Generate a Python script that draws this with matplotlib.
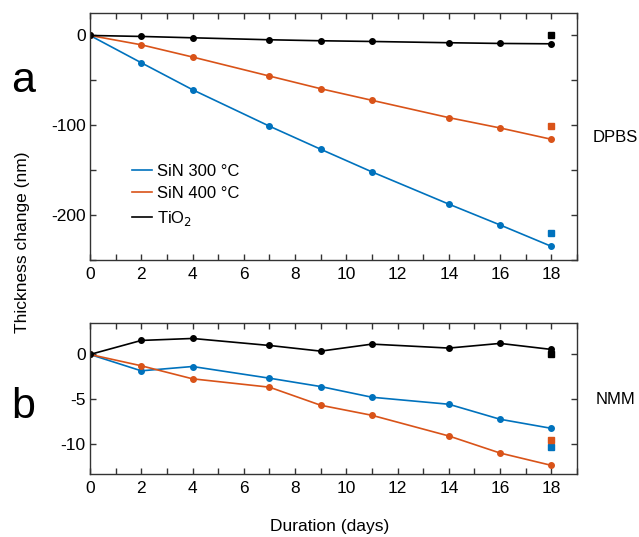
import matplotlib
matplotlib.use("Agg")
import matplotlib.pyplot as plt
from matplotlib.ticker import MultipleLocator

plt.rcParams['font.family'] = ['Liberation Sans', 'DejaVu Sans']
plt.rcParams['axes.unicode_minus'] = False

days = [0, 2, 4, 7, 9, 11, 14, 16, 18]

# Panel a: DPBS
dpbs_sin300 = [0, -30.4, -60.4, -101, -126.7, -151.9, -187.8, -211, -234.8]
dpbs_sin400 = [0, -10.4, -24.0, -45.2, -59.3, -72.2, -91.5, -103, -115.6]
dpbs_tio2 = [0, -1.1, -2.6, -4.8, -5.9, -6.7, -8.1, -8.9, -9.3]
dpbs_sq = {'sin300': -219.6, 'sin400': -101, 'tio2': 0}

# Panel b: NMM
nmm_sin300 = [0, -1.82, -1.34, -2.64, -3.57, -4.76, -5.54, -7.21, -8.22]
nmm_sin400 = [0, -1.26, -2.71, -3.64, -5.65, -6.77, -9.07, -10.97, -12.34]
nmm_tio2 = [0, 1.56, 1.78, 1.0, 0.37, 1.15, 0.71, 1.23, 0.56]
nmm_sq = {'sin300': -10.3, 'sin400': -9.5, 'tio2': 0.05}

sq_day = 18
labels = ['SiN 300 °C', 'SiN 400 °C', 'TiO$_2$']
colors = ['#0072BD', '#D95319', '#000000']

FS_TICK = 12.5
FS_LAB = 12.5
FS_TXT = 12

fig = plt.figure(figsize=(6.39, 5.37), dpi=100)
W, H = 639, 537
def ax_rect(l, t, r, b):
    return [l / W, 1 - b / H, (r - l) / W, (b - t) / H]

axa = fig.add_axes(ax_rect(90, 13, 577, 260))
axb = fig.add_axes(ax_rect(90, 323, 577, 474))

spine_col = '#333333'

def style(ax):
    for s in ax.spines.values():
        s.set_color(spine_col)
        s.set_linewidth(1.0)
    ax.tick_params(which='both', direction='in', top=True, right=True,
                   color=spine_col, labelsize=FS_TICK)
    ax.tick_params(axis='y', pad=3)
    ax.tick_params(axis='x', pad=5)
    ax.tick_params(which='major', length=4.5, width=1.0)
    ax.tick_params(which='minor', length=4.5, width=1.0)
    ax.set_xlim(0, 19)
    ax.xaxis.set_major_locator(MultipleLocator(2))
    ax.xaxis.set_minor_locator(MultipleLocator(1))

series_a = [dpbs_sin300, dpbs_sin400, dpbs_tio2]
series_b = [nmm_sin300, nmm_sin400, nmm_tio2]
keys = ['sin300', 'sin400', 'tio2']

for ys, c, lab in zip(series_a, colors, labels):
    axa.plot(days, ys, '-o', color=c, lw=1.2, ms=4, label=lab)
for k, c in zip(keys, colors):
    axa.plot([sq_day], [dpbs_sq[k]], 's', color=c, ms=4.5)

for ys, c in zip(series_b, colors):
    axb.plot(days, ys, '-o', color=c, lw=1.2, ms=4)
for k, c in zip(keys, colors):
    axb.plot([sq_day], [nmm_sq[k]], 's', color=c, ms=4.5)

style(axa)
style(axb)
axa.set_ylim(-250, 25)
axa.yaxis.set_major_locator(MultipleLocator(100))
axa.yaxis.set_minor_locator(MultipleLocator(50))
axb.set_ylim(-13.3, 3.5)
axb.yaxis.set_major_locator(MultipleLocator(5))
axb.yaxis.set_minor_locator(MultipleLocator(5))

leg = axa.legend(loc='upper left', bbox_to_anchor=(0.087, 0.39), frameon=False,
                 fontsize=FS_TXT, handlelength=1.2, handletextpad=0.3,
                 labelspacing=0.45, borderaxespad=0, borderpad=0)
for h in leg.legend_handles:
    h.set_marker('')

fig.text(11 / W, 1 - 92 / H, 'a', fontsize=31, va='baseline', ha='left')
fig.text(11 / W, 1 - 418 / H, 'b', fontsize=31, va='baseline', ha='left')
fig.text(593 / W, 1 - 137 / H, 'DPBS', fontsize=FS_TXT, va='center', ha='left')
fig.text(596 / W, 1 - 400 / H, 'NMM', fontsize=FS_TXT, va='center', ha='left')
fig.text(23 / W, 1 - 242 / H, 'Thickness change (nm)', fontsize=FS_LAB,
         rotation=90, va='center', ha='center')
fig.text(330 / W, 1 - 527 / H, 'Duration (days)', fontsize=FS_LAB,
         va='center', ha='center')

fig.savefig('out.png', dpi=100)
